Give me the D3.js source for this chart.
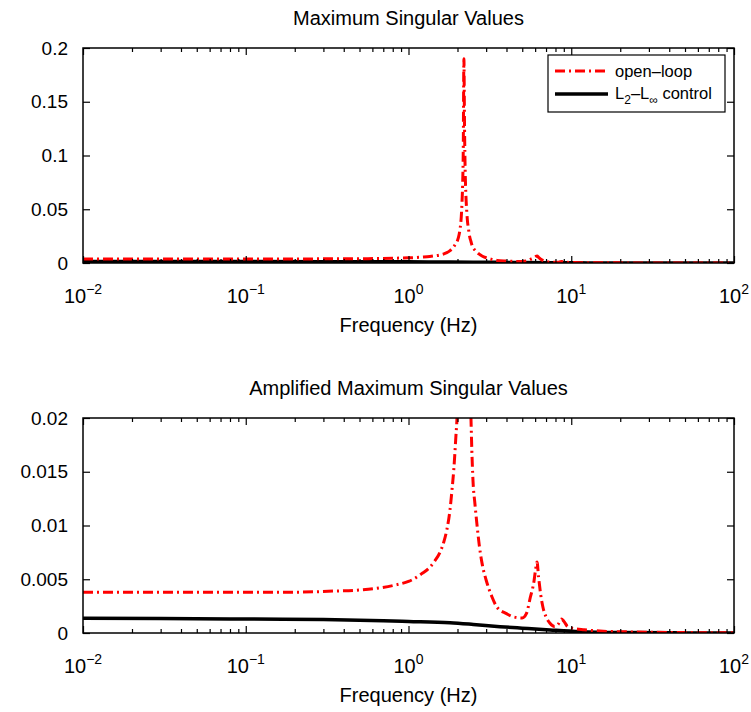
<!DOCTYPE html>
<html>
<head>
<meta charset="utf-8">
<script src="https://cdn.jsdelivr.net/npm/d3@7"></script>
<style>
    body { margin: 0; background: #fff; }
    text { font-family: "Liberation Sans", Arial, sans-serif; fill: #000; }
</style>
</head>
<body>
<svg id="chart" width="751" height="712"></svg>
<script>
// frequency (Hz) and max singular value
const olFreq = [0.01, 0.02, 0.05, 0.1, 0.2, 0.35, 0.5, 0.67, 0.85, 1.0, 1.07, 1.2, 1.35, 1.45, 1.56, 1.65, 1.72, 1.8, 1.85, 1.9, 1.95, 2.0,
    2.05, 2.08, 2.11, 2.13, 2.15, 2.17, 2.19, 2.21, 2.23, 2.25, 2.28, 2.3, 2.34, 2.38, 2.42, 2.45, 2.49, 2.56, 2.63, 2.72, 2.83, 3.03,
    3.25, 3.5, 4.0, 4.4, 5.0, 5.3, 5.6, 5.9, 6.05, 6.16, 6.3, 6.5, 6.7, 7.0, 7.4, 7.9, 8.3, 8.7, 9.0, 9.5, 10.5, 12, 15, 20, 30, 50, 100];
const olValue = [0.0038, 0.0038, 0.0038, 0.0038, 0.0038, 0.0039, 0.0040, 0.0042, 0.0045, 0.0048, 0.0050, 0.0055, 0.0061, 0.0067, 0.0075, 0.0085, 0.0096, 0.0115, 0.0133, 0.0153, 0.0180, 0.0210,
    0.0270, 0.0330, 0.0430, 0.0550, 0.0720, 0.1050, 0.1900, 0.1250, 0.0850, 0.0650, 0.0480, 0.0400, 0.0310, 0.0240, 0.0200, 0.0170, 0.0142, 0.0120, 0.0102, 0.0082, 0.0065, 0.0047,
    0.0034, 0.0024, 0.0018, 0.0015, 0.0014, 0.0018, 0.0033, 0.0048, 0.0060, 0.0066, 0.0052, 0.0035, 0.0024, 0.0015, 0.0009, 0.0006, 0.0008, 0.0013, 0.0011, 0.0006, 0.0004, 0.0003, 0.00018, 0.00012, 0.00007, 0.00004, 0.00002];

const ctrlFreq = [0.01, 0.03, 0.1, 0.3, 0.7, 1.0, 1.8, 2.5, 3.65, 5, 7.4, 11.3, 20, 50, 100];
const ctrlValue = [0.00137, 0.00134, 0.00130, 0.00125, 0.00114, 0.00108, 0.00096, 0.00080, 0.00059, 0.00045, 0.00028, 0.00012, 0.00004, 0.00001, 0.0];

const panelTitles = ["Maximum Singular Values", "Amplified Maximum Singular Values"];
const yMaxes = [0.2, 0.02];
const yTickValues = [[0, 0.05, 0.1, 0.15, 0.2], [0, 0.005, 0.01, 0.015, 0.02]];
const yTickLabels = [["0", "0.05", "0.1", "0.15", "0.2"], ["0", "0.005", "0.01", "0.015", "0.02"]];
const xTickValues = [0.01, 0.1, 1, 10, 100];
const xTickExps = ["\u22122", "\u22121", "0", "1", "2"];
const legendLabels = ["open\u2013loop", "control"];

const svg = d3.select("#chart");
const left = 83, right = 734;
const panelTops = [48, 418];
const panelH = 215;

const olData = olFreq.map((f, i) => ({f: f, v: olValue[i]}));
const ctrlData = ctrlFreq.map((f, i) => ({f: f, v: ctrlValue[i]}));

const x = d3.scaleLog().domain([0.01, 100]).range([left, right]);

// minor log ticks 2..9 in each decade
const minorTicks = [];
for (let e = -2; e < 2; e++) {
    for (let k = 2; k <= 9; k++) {
        minorTicks.push(k * Math.pow(10, e));
    }
}

panelTops.forEach(function(top, p) {
    const bottom = top + panelH;
    const y = d3.scaleLinear().domain([0, yMaxes[p]]).range([bottom, top]);
    const g = svg.append("g");

    g.append("defs").append("clipPath")
        .attr("id", "clip" + p)
        .append("rect")
        .attr("x", left).attr("y", top)
        .attr("width", right - left).attr("height", panelH);

    const line = d3.line()
        .x(d => x(d.f))
        .y(d => y(d.v))
        .curve(d3.curveMonotoneX);

    const plot = g.append("g").attr("clip-path", "url(#clip" + p + ")");

    plot.append("path")
        .datum(ctrlData)
        .attr("fill", "none")
        .attr("stroke", "#000")
        .attr("stroke-width", 3.5)
        .attr("d", line);

    plot.append("path")
        .datum(olData)
        .attr("fill", "none")
        .attr("stroke", "#ff0000")
        .attr("stroke-width", 3)
        .attr("stroke-dasharray", "10,4,2,4")
        .attr("d", line);

    // axes: ticks inward on all four sides, matlab style
    const axB = g.append("g").attr("transform", "translate(0," + bottom + ")")
        .call(d3.axisBottom(x).tickValues(xTickValues).tickSize(-7).tickFormat(""));
    const axT = g.append("g").attr("transform", "translate(0," + top + ")")
        .call(d3.axisTop(x).tickValues(xTickValues).tickSize(-7).tickFormat(""));
    const mB = g.append("g").attr("transform", "translate(0," + bottom + ")")
        .call(d3.axisBottom(x).tickValues(minorTicks).tickSize(-4).tickFormat(""));
    const mT = g.append("g").attr("transform", "translate(0," + top + ")")
        .call(d3.axisTop(x).tickValues(minorTicks).tickSize(-4).tickFormat(""));
    const axL = g.append("g").attr("transform", "translate(" + left + ",0)")
        .call(d3.axisLeft(y).tickValues(yTickValues[p]).tickSize(-7).tickFormat(""));
    const axR = g.append("g").attr("transform", "translate(" + right + ",0)")
        .call(d3.axisRight(y).tickValues(yTickValues[p]).tickSize(-7).tickFormat(""));

    [axB, axT, mB, mT, axL, axR].forEach(function(a) {
        a.select(".domain").remove();
        a.selectAll("line").attr("stroke", "#000").attr("stroke-width", 1.2);
    });

    g.append("rect")
        .attr("x", left).attr("y", top)
        .attr("width", right - left).attr("height", panelH)
        .attr("fill", "none")
        .attr("stroke", "#000")
        .attr("stroke-width", 1.5);

    // y tick labels
    g.selectAll(".ylab")
        .data(yTickValues[p])
        .enter().append("text")
        .attr("x", left - 15)
        .attr("y", d => y(d))
        .attr("dy", "0.35em")
        .attr("text-anchor", "end")
        .style("font-size", "19px")
        .text((d, i) => yTickLabels[p][i]);

    // x tick labels 10^n
    const xl = g.selectAll(".xlab")
        .data(xTickValues)
        .enter().append("text")
        .attr("x", d => x(d))
        .attr("y", bottom + 40)
        .attr("text-anchor", "middle")
        .style("font-size", "20px");
    xl.append("tspan").text("10");
    xl.append("tspan")
        .attr("dy", -9)
        .style("font-size", "14px")
        .text((d, i) => xTickExps[i]);

    g.append("text")
        .attr("x", (left + right) / 2)
        .attr("y", bottom + 69)
        .attr("text-anchor", "middle")
        .style("font-size", "20px")
        .text("Frequency (Hz)");

    g.append("text")
        .attr("x", (left + right) / 2)
        .attr("y", top - 23)
        .attr("text-anchor", "middle")
        .style("font-size", "20px")
        .text(panelTitles[p]);

    if (p === 0) {
        const lg = g.append("g");
        lg.append("rect")
            .attr("x", 548).attr("y", 55)
            .attr("width", 177).attr("height", 57)
            .attr("fill", "#fff")
            .attr("stroke", "#000")
            .attr("stroke-width", 1.2);
        lg.append("line")
            .attr("x1", 555).attr("x2", 608)
            .attr("y1", 71).attr("y2", 71)
            .attr("stroke", "#ff0000")
            .attr("stroke-width", 3)
            .attr("stroke-dasharray", "10,4,2,4");
        lg.append("line")
            .attr("x1", 555).attr("x2", 608)
            .attr("y1", 94).attr("y2", 94)
            .attr("stroke", "#000")
            .attr("stroke-width", 3.5);
        lg.append("text")
            .attr("x", 615).attr("y", 77)
            .style("font-size", "16.5px")
            .text(legendLabels[0]);
        const t2 = lg.append("text")
            .attr("x", 615).attr("y", 99)
            .style("font-size", "16.5px");
        t2.append("tspan").text("L");
        t2.append("tspan").attr("dy", 5).style("font-size", "12px").text("2");
        t2.append("tspan").attr("dy", -5).text("\u2013L");
        t2.append("tspan").attr("dy", 5).style("font-size", "12px").text("\u221e");
        t2.append("tspan").attr("dy", -5).text(" " + legendLabels[1]);
    }
});
</script>
</body>
</html>
